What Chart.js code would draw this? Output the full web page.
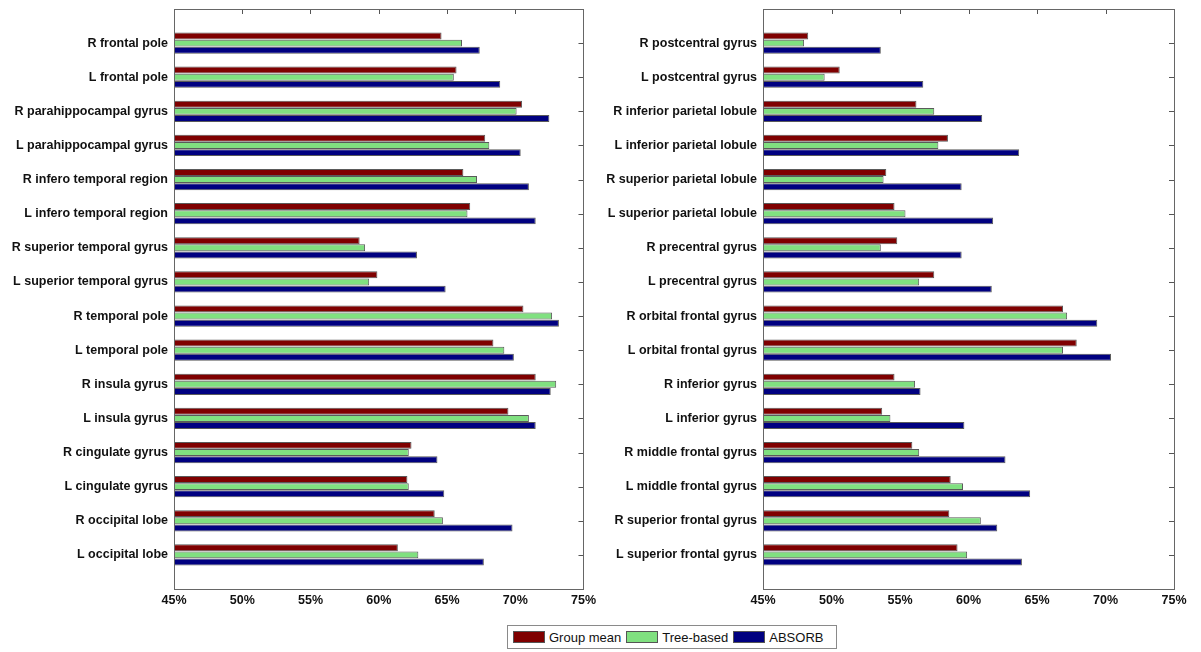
<!DOCTYPE html>
<html>
<head>
<meta charset="utf-8">
<script src="https://cdn.jsdelivr.net/npm/chart.js@4/dist/chart.umd.min.js"></script>
<style>
  html, body { margin:0; padding:0; background:#fff; }
  #wrap { position:relative; width:1201px; height:652px; overflow:hidden; font-family:"Liberation Sans", Arial, sans-serif; }
  #left { position:absolute; left:0; top:0; }
  #right { position:absolute; left:600px; top:0; }
  #legend { position:absolute; left:507px; top:625px; width:330px; height:24px; border:1px solid #8a8a8a;
            box-sizing:border-box; display:flex; align-items:center; font-size:13px; color:#111; padding-left:5px; }
  #legend span.sw { display:inline-block; width:32px; height:12px; border:1px solid #555; margin:0 4px 0 0; box-sizing:border-box; }
  #legend span.lb { margin-right:5px; }
</style>
</head>
<body>
<div id="wrap">
  <canvas id="left" width="600" height="620"></canvas>
  <canvas id="right" width="601" height="620"></canvas>
  <div id="legend"></div>
</div>
<script>
// donnees --------------------------------------------------------------------
const seriesNames = ['Group mean', 'Tree-based', 'ABSORB'];
const seriesColors = ['#7f0000', '#80e080', '#000080'];

const xMin = 45, xMax = 75, xStep = 5;

const leftRegions = ['R frontal pole', 'L frontal pole', 'R parahippocampal gyrus', 'L parahippocampal gyrus',
  'R infero temporal region', 'L infero temporal region', 'R superior temporal gyrus', 'L superior temporal gyrus',
  'R temporal pole', 'L temporal pole', 'R insula gyrus', 'L insula gyrus',
  'R cingulate gyrus', 'L cingulate gyrus', 'R occipital lobe', 'L occipital lobe'];
const leftGroupMean = [64.6, 65.7, 70.5, 67.8, 66.2, 66.7, 58.6, 59.9, 70.6, 68.4, 71.5, 69.5, 62.4, 62.1, 64.1, 61.4];
const leftTreeBased = [66.1, 65.5, 70.1, 68.1, 67.2, 66.5, 59.0, 59.3, 72.7, 69.2, 73.0, 71.0, 62.2, 62.2, 64.7, 62.9];
const leftAbsorb    = [67.4, 68.9, 72.5, 70.4, 71.0, 71.5, 62.8, 64.9, 73.2, 69.9, 72.6, 71.5, 64.3, 64.8, 69.8, 67.7];

const rightRegions = ['R postcentral gyrus', 'L postcentral gyrus', 'R inferior parietal lobule', 'L inferior parietal lobule',
  'R superior parietal lobule', 'L superior parietal lobule', 'R precentral gyrus', 'L precentral gyrus',
  'R orbital frontal gyrus', 'L orbital frontal gyrus', 'R inferior gyrus', 'L inferior gyrus',
  'R middle frontal gyrus', 'L middle frontal gyrus', 'R superior frontal gyrus', 'L superior frontal gyrus'];
const rightGroupMean = [48.3, 50.6, 56.2, 58.5, 54.0, 54.6, 54.8, 57.5, 66.9, 67.9, 54.6, 53.7, 55.9, 58.7, 58.6, 59.2];
const rightTreeBased = [48.0, 49.5, 57.5, 57.8, 53.8, 55.4, 53.6, 56.4, 67.2, 66.9, 56.1, 54.3, 56.4, 59.6, 60.9, 59.9];
const rightAbsorb    = [53.6, 56.7, 61.0, 63.7, 59.5, 61.8, 59.5, 61.7, 69.4, 70.4, 56.5, 59.7, 62.7, 64.5, 62.1, 63.9];

const labelFont = { family: 'Liberation Sans', size: 12.5, weight: 'bold' };

// cadre + petites graduations vers l'interieur (style matlab) ---------------
const frameTicks = {
  id: 'frameTicks',
  afterDraw(chart){
    const {ctx, chartArea:a, scales:{x, y}} = chart;
    const L = 5;
    ctx.save();
    ctx.strokeStyle = '#555';
    ctx.lineWidth = 1;
    ctx.beginPath();
    x.ticks.forEach((t, i) => {
      if(i === 0 || i === x.ticks.length - 1) return;
      const px = Math.round(x.getPixelForTick(i)) + .5;
      ctx.moveTo(px, a.top); ctx.lineTo(px, a.top + L);
    });
    y.ticks.forEach((t, i) => {
      if(!chart.data.labels[i]) return;
      const py = Math.round(y.getPixelForTick(i)) + .5;
      ctx.moveTo(a.right, py); ctx.lineTo(a.right - L, py);
    });
    ctx.stroke();
    ctx.strokeStyle = '#666';
    ctx.strokeRect(Math.round(a.left) + .5, Math.round(a.top) + .5, Math.round(a.right - a.left), Math.round(a.bottom - a.top));
    ctx.restore();
  }
};

function makePanel(id, regions, values, axisWidth, padRight){
  // une categorie vide en haut et en bas pour laisser la marge comme dans matlab
  const labels = ['', ...regions, ''];
  const datasets = values.map((vals, k) => ({
    label: seriesNames[k],
    data: [null, ...vals, null],
    base: xMin,
    backgroundColor: seriesColors[k],
    borderColor: '#5a5a5a',
    borderWidth: 1,
    borderSkipped: false,
    categoryPercentage: .63,
    barPercentage: .97
  }));
  return new Chart(document.getElementById(id), {
    type: 'bar',
    data: { labels, datasets },
    options: {
      indexAxis: 'y',
      responsive: false,
      animation: false,
      events: [],
      layout: { padding: { top: 9, right: padRight, left: 0, bottom: 0 } },
      plugins: { legend: { display: false }, tooltip: { enabled: false } },
      scales: {
        x: {
          min: xMin, max: xMax,
          grid: { display: false, drawTicks: false },
          border: { display: false },
          ticks: { stepSize: xStep, padding: 4, color: '#111', font: labelFont,
                   callback: v => v + '%' },
          afterFit: s => { s.height = 31; }
        },
        y: {
          offset: false,
          grid: { display: false, drawTicks: false },
          border: { display: false },
          ticks: { autoSkip: false, padding: 6, color: '#111', font: labelFont },
          afterFit: s => { s.width = axisWidth; s.paddingTop = 0; s.paddingBottom = 0; }
        }
      }
    },
    plugins: [frameTicks]
  });
}

makePanel('left', leftRegions, [leftGroupMean, leftTreeBased, leftAbsorb], 174, 16);
makePanel('right', rightRegions, [rightGroupMean, rightTreeBased, rightAbsorb], 163, 27);

// legende en html sous les deux panneaux
document.getElementById('legend').innerHTML = seriesNames.map((n, k) =>
  `<span class="sw" style="background:${seriesColors[k]}"></span><span class="lb">${n}</span>`).join('');
</script>
</body>
</html>
